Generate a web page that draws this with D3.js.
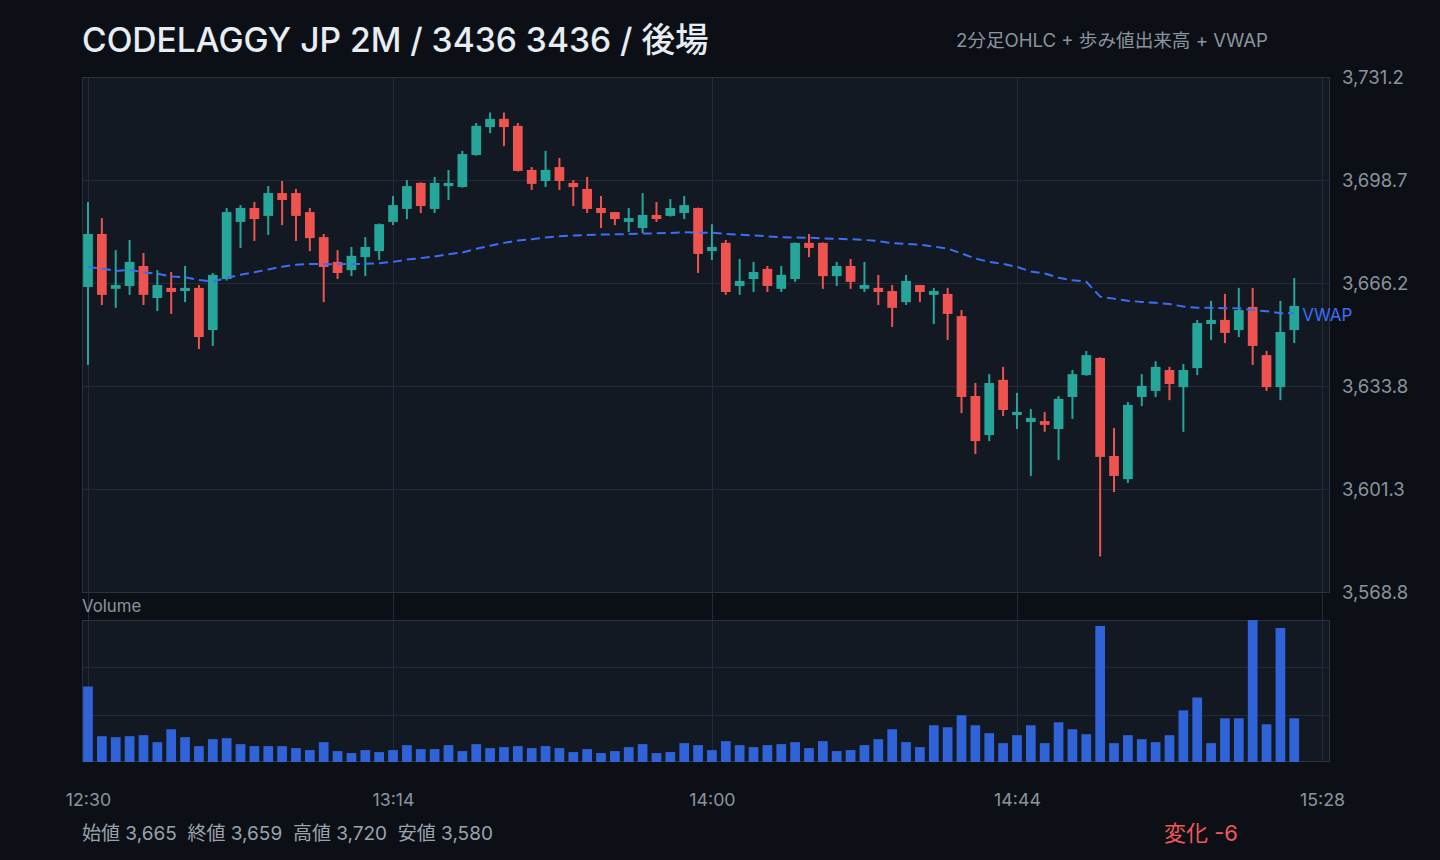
<!DOCTYPE html>
<html><head><meta charset="utf-8">
<script src="https://cdn.jsdelivr.net/npm/d3@7"></script>
<style>
html,body{margin:0;padding:0;background:#0c1016;}
svg{display:block;}
text{font-family:Inter,"Noto Sans CJK JP",sans-serif;}
</style></head><body>
<svg id="chart" width="1440" height="860"></svg>
<script>
// ---------- data ----------
const times = ["12:30","12:32","12:34","12:36","12:38","12:40","12:42","12:44","12:46","12:48","12:50","12:52","12:54","12:56","12:58",
"13:00","13:02","13:04","13:06","13:08","13:10","13:12","13:14","13:16","13:18","13:20","13:22","13:24","13:26","13:28",
"13:30","13:32","13:34","13:36","13:38","13:40","13:42","13:44","13:46","13:48","13:50","13:52","13:54","13:56","13:58",
"14:00","14:02","14:04","14:06","14:08","14:10","14:12","14:14","14:16","14:18","14:20","14:22","14:24","14:26","14:28",
"14:30","14:32","14:34","14:36","14:38","14:40","14:42","14:44","14:46","14:48","14:50","14:52","14:54","14:56","14:58",
"15:00","15:02","15:04","15:06","15:08","15:10","15:12","15:14","15:16","15:18","15:20","15:22","15:24"];
const opens = [3665,3681.7,3664.4,3665.3,3671.6,3661.5,3664.7,3663.7,3664.7,3651.4,3667.5,3685.5,3689.9,3687.4,3694.6,
3694.6,3688.6,3680.7,3672.9,3670.3,3674.4,3676.3,3685.5,3689.6,3697.8,3689.6,3696.8,3696.5,3706.6,3715.4,
3718.0,3715.8,3701.9,3698.4,3702.8,3697.8,3695.9,3689.9,3688.6,3685.5,3683.6,3687.7,3687.4,3688.3,3689.9,
3676.3,3678.9,3665.3,3667.5,3670.7,3664.4,3667.5,3678.9,3678.9,3668.4,3671.6,3664.4,3664.7,3663.7,3660.2,
3665.6,3662.5,3662.8,3655.8,3630.6,3618.3,3635.7,3624.6,3622.4,3622.7,3620.2,3630.3,3637.2,3642.6,3611.7,
3604.4,3630.3,3632.2,3638.8,3633.4,3639.4,3653.3,3654.6,3651.4,3658.7,3643.5,3633.4,3651.4];
const highs = [3691.8,3686.7,3676.6,3679.8,3675.7,3670.3,3669.7,3671.6,3665.6,3669.4,3689.9,3690.8,3691.8,3696.8,3698.4,
3695.9,3689.9,3681.7,3676.6,3677.6,3680.7,3685.0,3693.7,3698.7,3698.0,3699.7,3701.9,3707.9,3716.7,3720.0,
3720.0,3716.7,3702.8,3707.9,3705.7,3698.7,3699.7,3693.7,3688.6,3689.9,3694.6,3691.8,3692.7,3693.7,3690.0,
3684.8,3679.8,3673.8,3672.9,3671.6,3671.6,3679.0,3681.7,3679.0,3672.9,3673.8,3672.9,3668.8,3665.6,3668.8,
3665.6,3664.7,3664.7,3657.7,3634.7,3637.5,3639.8,3631.6,3626.5,3625.6,3630.6,3638.8,3644.8,3642.8,3620.5,
3628.7,3637.5,3641.6,3639.8,3640.7,3654.6,3660.6,3662.8,3664.7,3664.7,3644.8,3660.6,3667.8];
const lows = [3640.4,3659.3,3658.4,3662.5,3659.3,3657.4,3656.5,3660.2,3645.4,3646.4,3667.0,3677.3,3679.5,3681.4,3684.5,
3679.5,3676.3,3660.2,3667.5,3668.4,3668.4,3673.5,3684.5,3686.4,3688.3,3688.3,3692.4,3696.3,3706.4,3713.5,
3709.4,3701.4,3695.6,3696.5,3695.6,3690.5,3688.3,3683.6,3684.5,3682.3,3682.0,3685.5,3687.2,3686.4,3669.4,
3673.5,3662.5,3662.5,3663.4,3663.4,3663.4,3666.6,3674.4,3664.4,3665.3,3664.4,3663.4,3659.3,3652.4,3659.3,
3660.2,3653.3,3648.3,3625.2,3612.3,3616.4,3624.3,3620.2,3605.4,3619.3,3610.4,3623.4,3637.0,3580.0,3600.3,
3603.2,3627.4,3630.3,3629.3,3619.3,3637.2,3648.3,3647.3,3649.2,3640.4,3632.2,3629.3,3647.3];
const closes = [3681.7,3662.5,3665.6,3672.9,3662.5,3665.6,3663.4,3664.7,3649.2,3668.8,3688.6,3689.9,3686.4,3694.6,3692.4,
3687.4,3680.4,3671.3,3669.4,3674.8,3677.6,3684.8,3690.8,3696.8,3690.5,3697.8,3697.8,3706.9,3715.8,3718.0,
3715.4,3701.6,3697.5,3701.9,3698.4,3696.5,3689.6,3688.3,3686.4,3686.7,3687.7,3686.4,3689.9,3690.8,3675.4,
3677.6,3663.4,3666.9,3669.7,3665.3,3668.8,3678.9,3677.3,3668.4,3671.6,3666.6,3665.6,3663.4,3658.4,3666.9,
3663.4,3663.7,3656.5,3630.3,3616.4,3634.7,3626.2,3625.6,3623.7,3621.5,3629.7,3637.5,3643.5,3611.4,3605.4,
3627.8,3633.8,3639.8,3634.4,3638.8,3653.6,3654.6,3650.5,3657.7,3646.4,3633.4,3650.8,3659.0];
const volumes = [7600,2600,2500,2600,2700,2000,3300,2500,1600,2300,2400,1800,1600,1600,1600,
1400,1200,2000,1100,900,1200,1000,1200,1700,1300,1300,1700,1100,1800,1400,
1500,1600,1400,1600,1400,1000,1300,900,1100,1500,1800,900,1000,1900,1700,
1200,2100,1700,1500,1700,1800,2000,1400,2100,1100,1200,1700,2300,3300,2000,
1500,3700,3500,4700,3700,2900,1900,2700,3700,1900,4000,3300,2800,13700,1900,
2700,2300,2000,2700,5200,6500,1900,4400,4400,14300,3800,13500,4400];
const xTickLabels = ["12:30","13:14","14:00","14:44","15:28"];
const titleText = "CODELAGGY JP 2M / 3436 3436 / 後場";
const subtitleText = "2分足OHLC + 歩み値出来高 + VWAP";
const summaryText = "始値 3,665\u00a0\u00a0終値 3,659\u00a0\u00a0高値 3,720\u00a0\u00a0安値 3,580";
const changeText = "変化 -6";

// ---------- layout ----------
const W = 1440, H = 860;
const L = 82, R = 1330;
const pTop = 77, pBot = 593;
const vTop = 620, vBot = 762;
const C = {
  page:"#0c1016", panel:"#121922", grid:"#222b37", frame:"#29323e",
  text:"#8b949e", title:"#e6edf3", up:"#26a69a", down:"#ef5350",
  vol:"#3062d8", vwap:"#3d6ef6", change:"#f0585a"
};

const svg = d3.select("#chart");
svg.append("rect").attr("width",W).attr("height",H).attr("fill",C.page);

const parse = d3.timeParse("%H:%M");
const data = times.map((t,i)=>({t:parse(t), o:opens[i], h:highs[i], l:lows[i], c:closes[i], v:volumes[i]}));

const x = d3.scaleTime().domain([parse(xTickLabels[0]), parse(xTickLabels[xTickLabels.length-1])]).range([88,1322]);
const step = x(parse("12:32")) - x(parse("12:30"));
const bw = step*0.7;

const hiAll = d3.max(highs), loAll = d3.min(lows);
const pad = (hiAll-loAll)*0.08;
const y = d3.scaleLinear().domain([loAll-pad, hiAll+pad]).range([pBot-1, pTop]);
const yTicks = d3.range(6).map(k => y.domain()[0] + k*(y.domain()[1]-y.domain()[0])/5);
const vMax = d3.max(volumes);
const yv = d3.scaleLinear().domain([0, vMax]).range([vBot, vTop]);
const vTicks = [vMax/3, vMax*2/3];

// panels
svg.append("rect").attr("x",L).attr("y",pTop).attr("width",R-L).attr("height",pBot-pTop).attr("fill",C.panel);
svg.append("rect").attr("x",L).attr("y",vTop).attr("width",R-L).attr("height",vBot-vTop).attr("fill",C.panel);

// grid
const grid = svg.append("g").attr("stroke",C.grid).attr("stroke-width",1);
grid.selectAll("line.h").data(yTicks.slice(1,-1)).join("line").attr("class","h")
  .attr("x1",L).attr("x2",R).attr("y1",d=>Math.round(y(d))+0.5).attr("y2",d=>Math.round(y(d))+0.5);
grid.selectAll("line.vh").data(vTicks).join("line").attr("class","vh")
  .attr("x1",L).attr("x2",R).attr("y1",d=>Math.round(yv(d))+0.5).attr("y2",d=>Math.round(yv(d))+0.5);
grid.selectAll("line.v").data(xTickLabels).join("line").attr("class","v")
  .attr("x1",d=>Math.round(x(parse(d)))+0.5).attr("x2",d=>Math.round(x(parse(d)))+0.5)
  .attr("y1",pTop).attr("y2",vBot);

// frames
svg.append("rect").attr("x",L+0.5).attr("y",pTop+0.5).attr("width",R-L-1).attr("height",pBot-pTop-1)
  .attr("fill","none").attr("stroke",C.frame);
svg.append("rect").attr("x",L+0.5).attr("y",vTop+0.5).attr("width",R-L-1).attr("height",vBot-vTop-1)
  .attr("fill","none").attr("stroke",C.frame);

// candles
const cg = svg.append("g");
const candle = cg.selectAll("g").data(data).join("g");
candle.append("rect")
  .attr("x",d=>x(d.t)-1).attr("width",2)
  .attr("y",d=>y(d.h)).attr("height",d=>Math.max(1,y(d.l)-y(d.h)))
  .attr("fill",d=>d.c>=d.o?C.up:C.down);
candle.append("rect")
  .attr("x",d=>x(d.t)-bw/2).attr("width",bw)
  .attr("y",d=>y(Math.max(d.o,d.c))).attr("height",d=>Math.max(2,Math.abs(y(d.o)-y(d.c))))
  .attr("fill",d=>d.c>=d.o?C.up:C.down);

// VWAP (cumulative typical price x volume)
let cumPV=0, cumV=0;
const vwap = data.map(d=>{ cumPV += (d.h+d.l+d.c)/3*d.v; cumV += d.v; return {t:d.t, v:cumPV/cumV}; });
svg.append("path").datum(vwap)
  .attr("d", d3.line().x(d=>x(d.t)).y(d=>y(d.v)))
  .attr("fill","none").attr("stroke",C.vwap).attr("stroke-width",2).attr("stroke-dasharray","9,5");
const last = vwap[vwap.length-1];
svg.append("text").attr("x",x(last.t)+8).attr("y",y(last.v)+2).attr("dy","0.35em")
  .attr("fill",C.vwap).attr("font-size",17).text("VWAP");

// volume
svg.append("g").selectAll("rect").data(data).join("rect")
  .attr("x",d=>x(d.t)-bw/2).attr("width",bw)
  .attr("y",d=>yv(d.v)).attr("height",d=>vBot-yv(d.v))
  .attr("fill",C.vol);

svg.append("text").attr("x",L).attr("y",606).attr("dy","0.35em").attr("fill",C.text)
  .attr("font-size",16.8).text("Volume");

// axes
const yAxis = svg.append("g").attr("transform",`translate(1342,0)`)
  .call(d3.axisRight(y).tickValues(yTicks).tickFormat(d3.format(",.1f")).tickSize(0).tickPadding(0));
yAxis.select(".domain").remove();
yAxis.selectAll("text").attr("fill",C.text).attr("font-size",18.5).attr("dy","0.35em")
  .style("font-family","Inter,'Noto Sans CJK JP',sans-serif");

const xAxis = svg.append("g").attr("transform",`translate(0,800)`)
  .call(d3.axisBottom(x).tickValues(xTickLabels.map(parse)).tickFormat(d3.timeFormat("%H:%M")).tickSize(0).tickPadding(0));
xAxis.select(".domain").remove();
xAxis.selectAll("text").attr("fill",C.text).attr("font-size",17.8).attr("y",0).attr("dy","0.35em")
  .style("font-family","Inter,'Noto Sans CJK JP',sans-serif");

// titles
svg.append("text").attr("x",L).attr("y",52).attr("fill",C.title).attr("font-size",33.6).attr("font-weight",500).text(titleText);
svg.append("text").attr("x",1268).attr("y",40).attr("dy","0.35em").attr("text-anchor","end")
  .attr("fill",C.text).attr("font-size",18.6).text(subtitleText);
svg.append("text").attr("x",L).attr("y",833).attr("dy","0.35em").attr("fill","#9aa3ad")
  .attr("font-size",19).text(summaryText);
svg.append("text").attr("x",1238).attr("y",833).attr("dy","0.35em").attr("text-anchor","end")
  .attr("fill",C.change).attr("font-size",22).text(changeText);
</script>
</body></html>
